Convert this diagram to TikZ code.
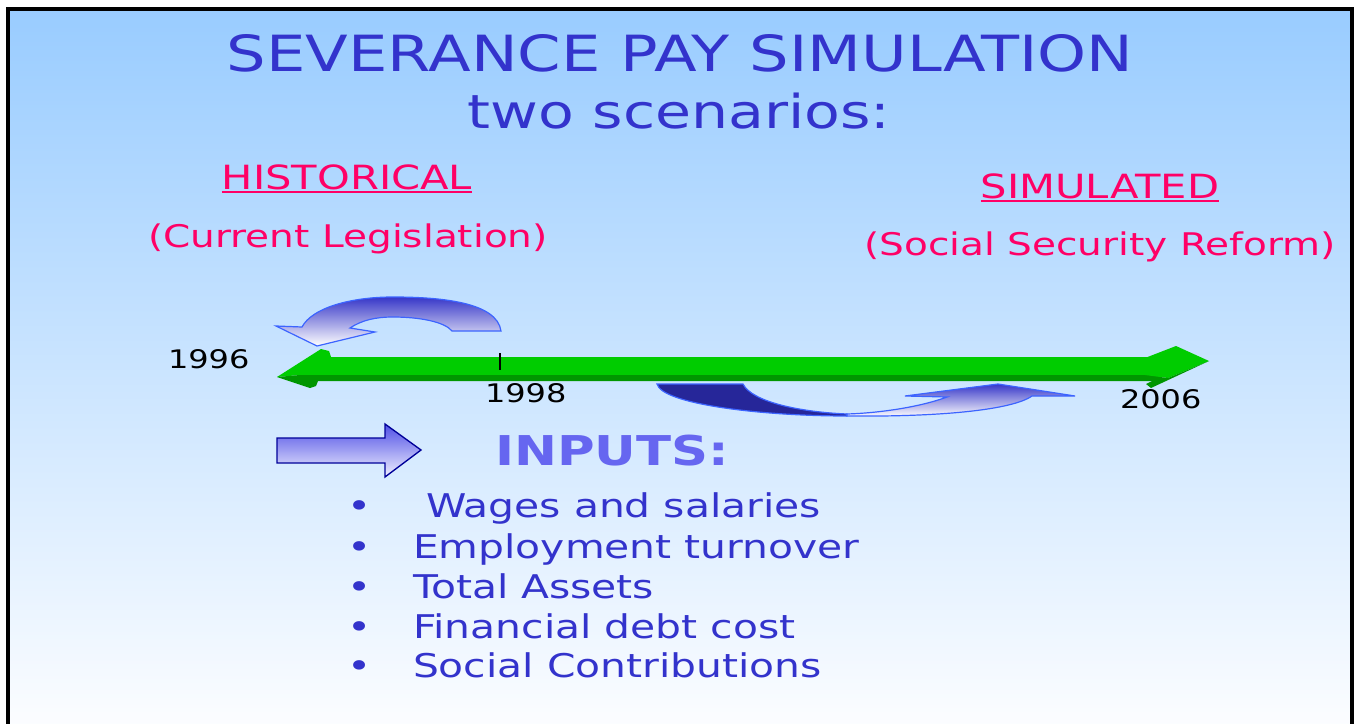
\documentclass[tikz,border=0pt]{standalone}
\usepackage{fontspec}
\setmainfont{DejaVu Sans}[FakeStretch=1.25]
\definecolor{tblue}{RGB}{51,51,204}
\definecolor{pinkred}{RGB}{255,0,102}
\definecolor{inblue}{RGB}{102,102,240}
\definecolor{bgtop}{RGB}{153,204,255}
\definecolor{bgbot}{RGB}{252,253,255}
\definecolor{lgreen}{RGB}{0,204,0}
\definecolor{dgreen}{RGB}{0,150,0}
\definecolor{arrline}{RGB}{60,100,255}
\definecolor{arrtop}{RGB}{55,55,200}
\definecolor{darkrib}{RGB}{38,38,153}
\begin{document}
\begin{tikzpicture}[x=0.75pt,y=-0.75pt,
  txt/.style={inner sep=0pt,outer sep=0pt},
  titletxt/.style={txt,text=tblue,anchor=base,font=\fontsize{37.4}{42}\selectfont},
  scen/.style={txt,text=pinkred,anchor=base},
  year/.style={txt,text=black,anchor=base west,font=\fontsize{19.2}{22}\selectfont},
  bullettxt/.style={txt,text=tblue,anchor=base west,font=\fontsize{24.5}{28}\selectfont},
  bulletdot/.style={txt,text=tblue,anchor=base,font=\fontsize{24.5}{28}\selectfont},
  uline/.style={pinkred,line width=1.65pt},
  swoosh/.style={draw=arrline,line width=0.9pt,top color=arrtop,bottom color=white},
]
\useasboundingbox (0,0) rectangle (1357,724);
\clip (0,0) rectangle (1357,724);
\fill[white] (0,0) rectangle (1357,724);
\shade[top color=bgtop,bottom color=bgbot] (8,9) rectangle (1352,730);
\draw[line width=2.6pt] (8,740) -- (8,9) -- (1352,9) -- (1352,740);

% titles
\node[titletxt] (title) at (680,72) {SEVERANCE PAY SIMULATION};
\node[titletxt,font=\fontsize{35.1}{40}\selectfont] (sub) at (679,128) {two scenarios:};

\node[scen,font=\fontsize{25}{29}\selectfont] (hist) at (347,189) {HISTORICAL};
\draw[uline] ([yshift=-2.25pt]hist.base west) -- ([yshift=-2.25pt]hist.base east);
\node[scen,font=\fontsize{23.4}{27}\selectfont] (curr) at (348,247) {(Current Legislation)};
\node[scen,font=\fontsize{25}{29}\selectfont] (simu) at (1100,198) {SIMULATED};
\draw[uline] ([yshift=-2.25pt]simu.base west) -- ([yshift=-2.25pt]simu.base east);
\node[scen,font=\fontsize{23.4}{27}\selectfont] (ssr) at (1100,255) {(Social Security Reform)};

% top U-turn arrow
\path[swoosh] (501,331) .. controls (497,302) and (440,297) .. (393,297)
  .. controls (350,297) and (312,308) .. (302,327) -- (276,326) -- (317,346)
  -- (375,332) -- (350,328) .. controls (362,320) and (376,317) .. (393,317)
  .. controls (420,317) and (445,322) .. (452,331) -- cycle;

% green timeline
\fill[lgreen] (277,377) -- (321,349) -- (329,351) -- (331,357) -- (1160,357)
  -- (1160,375) -- (300,375) -- cycle;
\fill[dgreen] (277,377) -- (300,375) -- (1160,375) -- (1160,381) -- (318,381)
  -- (316,386) -- (310,388) -- cycle;
\fill[lgreen] (1145,358) -- (1176,346) -- (1209,361) -- (1168,378) -- (1145,375) -- cycle;
\fill[dgreen] (1209,361) -- (1151,388) -- (1146,384) -- (1160,377) -- (1168,378) -- cycle;
\draw[line width=0.9pt] (500,353) -- (500,370);

\node[year] (y1996) at (168,368) {1996};
\node[year] (y1998) at (485,402) {1998};
\node[year] (y2006) at (1120,408) {2006};

% bottom ribbon arrow
\path[draw=arrline,line width=0.9pt,fill=darkrib] (657,384) -- (743,384)
  .. controls (752,402) and (800,412) .. (847,414) -- (847,416)
  .. controls (760,416) and (662,404) .. (657,384) -- cycle;
\path[swoosh] (847,416) .. controls (940,417) and (1012,410) .. (1032,396)
  -- (1075,396) -- (998,384) -- (905,396) -- (947,397)
  .. controls (920,407) and (880,413) .. (847,414) -- cycle;

% block arrow
\path[draw={rgb,255:red,0;green,0;blue,153},line width=1pt,
  top color={rgb,255:red,80;green,80;blue,230},bottom color={rgb,255:red,240;green,240;blue,255}]
  (277,438) -- (385,438) -- (385,424) -- (421,450) -- (385,477) -- (385,463) -- (277,463) -- cycle;

\node[txt,text=inblue,anchor=base,font=\fontsize{30.8}{35}\selectfont\bfseries] (inputs) at (612,465) {INPUTS:};

% bullets
\foreach \yy/\nm in {517/b1,558/b2,598/b3,638/b4,677/b5}{
  \node[bulletdot] (\nm dot) at (360,\yy) {•};
}
\node[bullettxt] (b1) at (426,517) {Wages and salaries};
\node[bullettxt] (b2) at (413,558) {Employment turnover};
\node[bullettxt] (b3) at (413,598) {Total Assets};
\node[bullettxt] (b4) at (413,638) {Financial debt cost};
\node[bullettxt] (b5) at (413,677) {Social Contributions};
\end{tikzpicture}
\end{document}
